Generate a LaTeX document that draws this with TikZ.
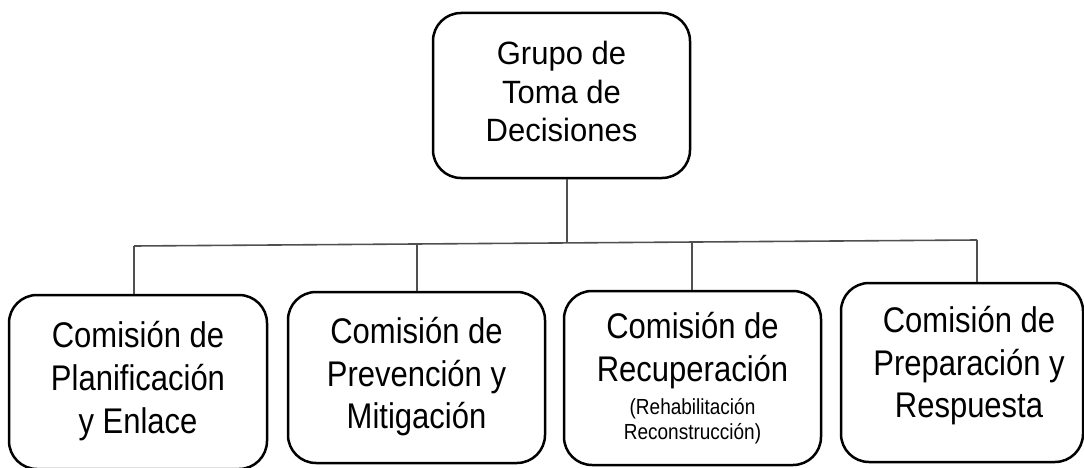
\documentclass[tikz,border=0pt]{standalone}
\usepackage{fontspec}
\setmainfont{Liberation Sans}
\definecolor{linkgray}{HTML}{505050}
% stretched, centred block of lines; #1 = vertical stretch, #2 = extra depth (moves text up), #3 = lines
\newcommand{\boxlines}[3]{\scalebox{1}[#1]{\begin{tabular}{@{}c@{}}#3\rule[-#2]{0pt}{0pt}\end{tabular}}}
\newcommand{\smallblock}[1]{{\fontsize{19}{22}\selectfont\begin{tabular}[t]{@{}c@{}}#1\end{tabular}}}
\begin{document}
\begin{tikzpicture}[x=1pt,y=-1pt,
  orgbox/.style={draw=black, line width=2.5pt, rounded corners=28pt, inner sep=0pt,
    align=center, font=\fontsize{31}{37}\selectfont},
  link/.style={draw=linkgray, line width=1.6pt}]
\useasboundingbox[fill=white] (0,0) rectangle (1084,468);
% boxes
\node[orgbox, minimum width=257pt, minimum height=165pt] (top) at (561.5,95.5)
  {\boxlines{1.04}{7pt}{Grupo de\\Toma de\\Decisiones}};
\node[orgbox, minimum width=258pt, minimum height=174pt] (b1) at (138,382)
  {\boxlines{1.15}{7pt}{Comisión de\\Planificación\\y Enlace}};
\node[orgbox, minimum width=257pt, minimum height=171pt] (b2) at (416.5,377.5)
  {\boxlines{1.15}{6pt}{Comisión de\\Prevención y\\Mitigación}};
\node[orgbox, minimum width=257pt, minimum height=174pt] (b3) at (692.5,378)
  {\boxlines{1.15}{0pt}{Comisión de\\Recuperación\\[-8pt]\smallblock{(Rehabilitación\\Reconstrucción)}}};
\node[orgbox, minimum width=242pt, minimum height=179pt] (b4) at (962,372.5)
  {\boxlines{1.15}{21pt}{\hspace{14pt}Comisión de\\\hspace{14pt}Preparación y\\\hspace{14pt}Respuesta}};
% junctions on the bus line
\coordinate (j1) at (134,246);
\coordinate (j2) at (417,244);
\coordinate (j0) at (567,243);
\coordinate (j3) at (692,242);
\coordinate (j4) at (977,240);
\draw[link] (top.south -| j0) -- (j0);
\draw[link] (j1) -- (j4);
\draw[link] (j1) -- (j1 |- b1.north);
\draw[link] (j2) -- (j2 |- b2.north);
\draw[link] (j3) -- (j3 |- b3.north);
\draw[link] (j4) -- (j4 |- b4.north);
\end{tikzpicture}
\end{document}
